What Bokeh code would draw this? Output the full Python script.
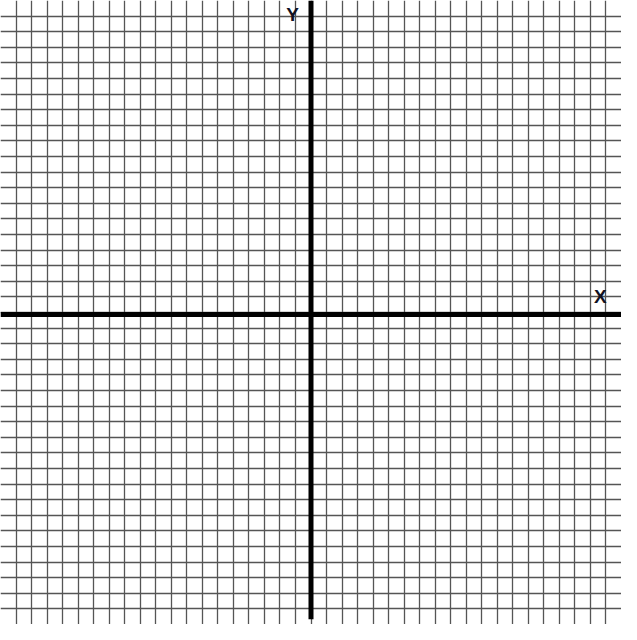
from bokeh.plotting import figure
from bokeh.models import Range1d, FixedTicker
from bokeh.core.properties import value
from bokeh.embed import file_html
from bokeh.resources import INLINE

# Grid: 40 x 40 unit cells, axes through the origin
grid_ticks = list(range(-20, 21))
x_axis_y = [-0.13, -0.13]
x_axis_x = [-20, 20]
y_axis_x = [0, 0]
y_axis_y = [-19.67, 20]
label_text = ["X", "Y"]
label_x = [18.64, -1.18]
label_y = [1.02, 19.09]

p = figure(width=621, height=624, output_backend="svg", toolbar_location=None,
           x_range=Range1d(-20, 20), y_range=Range1d(-20, 20),
           min_border=0, outline_line_color=None)
p.xaxis.visible = False
p.yaxis.visible = False
p.xgrid.ticker = FixedTicker(ticks=grid_ticks)
p.ygrid.ticker = FixedTicker(ticks=grid_ticks)
for g in (p.xgrid, p.ygrid):
    g.grid_line_color = "#555555"
    g.grid_line_width = 1.3
    g.grid_line_alpha = 1.0

p.line(x_axis_x, x_axis_y, line_color="black", line_width=5)
p.line(y_axis_x, y_axis_y, line_color="black", line_width=5)

p.text(x=label_x, y=label_y, text=label_text, text_align="center",
       text_baseline="middle", text_font=value("Liberation Sans"),
       text_font_style="bold", text_font_size="19px", text_color="#111122")

open("out.html", "w").write(file_html(p, INLINE))
